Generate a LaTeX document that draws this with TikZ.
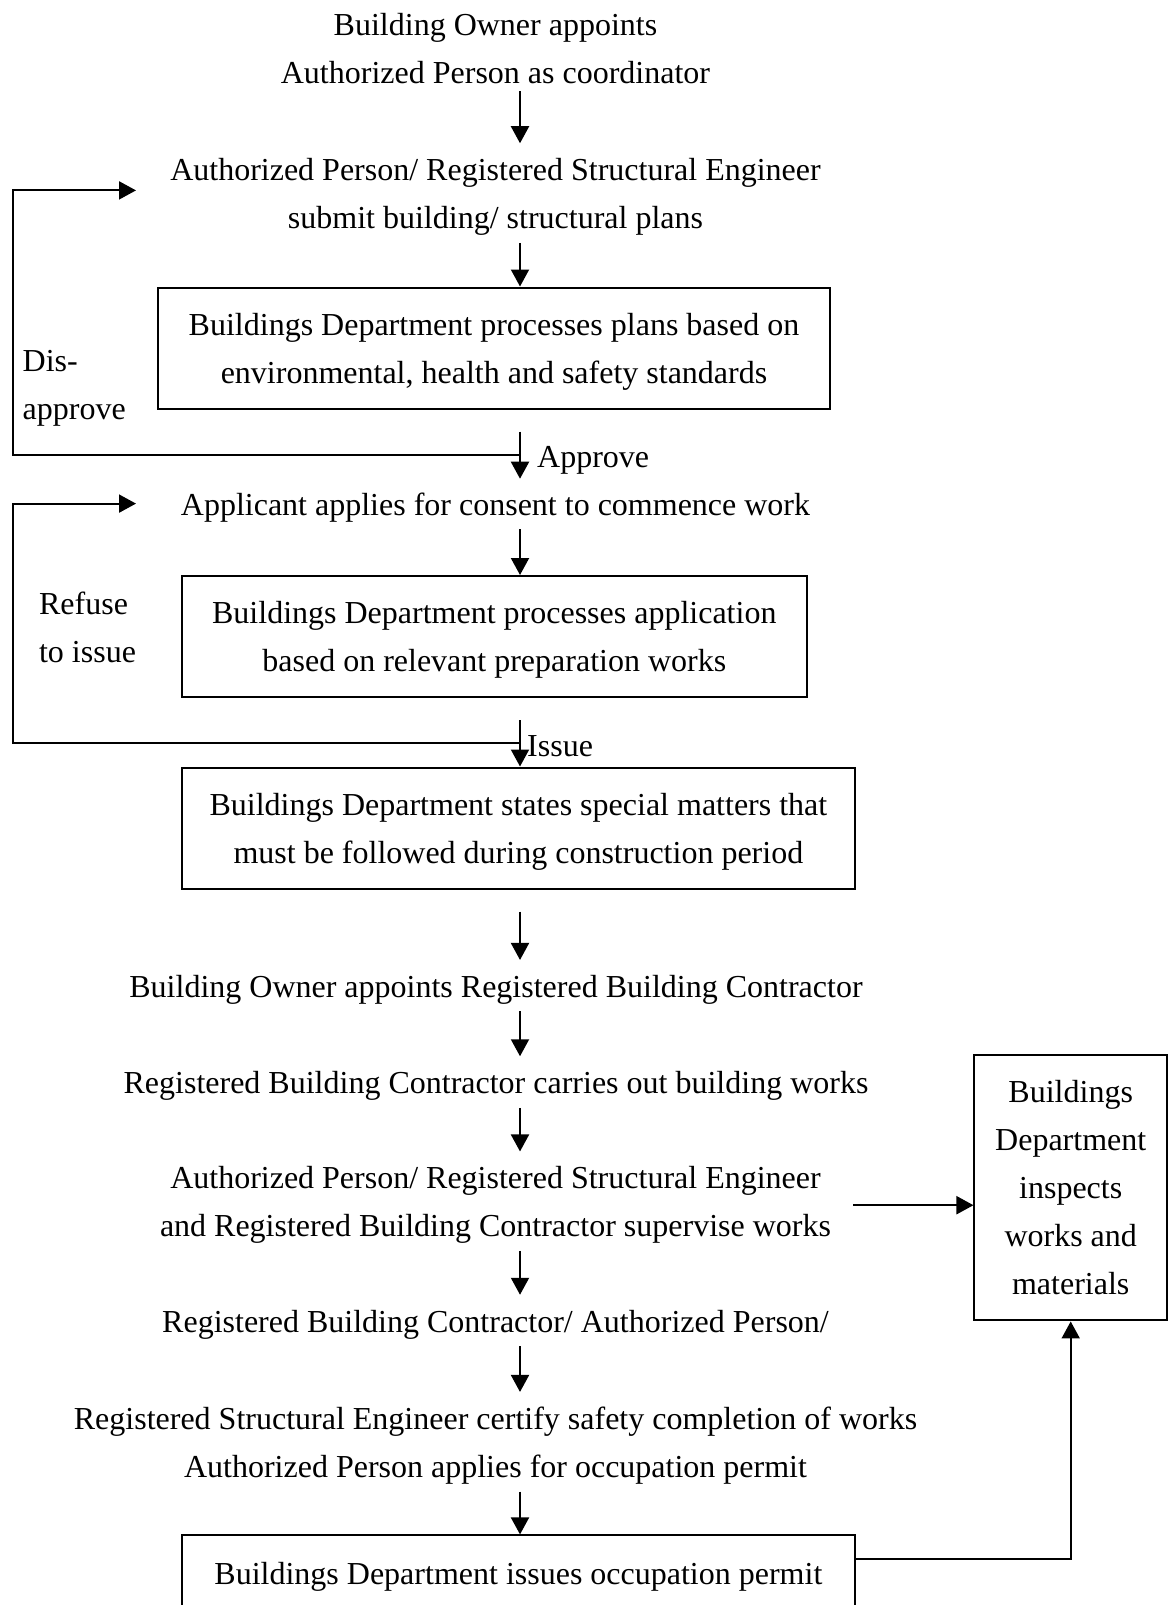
\documentclass[tikz,border=0pt]{standalone}
\usepackage{fontspec}
\setmainfont{Liberation Serif}
\usetikzlibrary{arrows.meta}

\tikzset{
  txt/.style={inner sep=0pt, align=center, font=\fontsize{32}{48}\selectfont},
  stagebox/.style={draw, line width=2pt, inner sep=0pt, text depth=0pt, align=center, font=\fontsize{32}{48}\selectfont},
  arr/.style={line width=2pt, -{Triangle[length=17pt,width=18pt]}},
  fromtxt/.style={shorten <=7pt},
  totxt/.style={shorten >=15pt},
  frombox/.style={shorten <=22pt}
}

\begin{document}
\begin{tikzpicture}[x=1pt, y=-1pt]
	\useasboundingbox (0,0) rectangle (1170,1605);
	\coordinate (ax) at (520,0);

	%main column
	\node[txt] (appoint) at (495.5,48.6) {Building Owner appoints\\Authorized Person as coordinator};
	\node[txt] (submit) at (495.5,197) {Authorized Person/ Registered Structural Engineer\\submit building/ structural plans};
	\node[stagebox, minimum width=672pt, minimum height=121pt] (plans) at (494,348) {Buildings Department processes plans based on\\environmental, health and safety standards};
	\node[txt] (consent) at (495.5,507.6) {Applicant applies for consent to commence work};
	\node[stagebox, minimum width=625pt, minimum height=121pt] (application) at (494.3,636.5) {Buildings Department processes application\\based on relevant preparation works};
	\node[stagebox, minimum width=673pt, minimum height=121pt] (matters) at (518.4,828) {Buildings Department states special matters that\\must be followed during construction period};
	\node[txt] (contractor) at (496,989.7) {Building Owner appoints Registered Building Contractor};
	\node[txt] (carries) at (496,1086) {Registered Building Contractor carries out building works};
	\node[txt] (supervise) at (495.5,1205.2) {Authorized Person/ Registered Structural Engineer\\and Registered Building Contractor supervise works};
	\node[txt] (certify) at (495.5,1324.5) {Registered Building Contractor/ Authorized Person/};
	\node[txt] (occupation) at (495.5,1445.8) {Registered Structural Engineer certify safety completion of works\\Authorized Person applies for occupation permit};
	\node[stagebox, minimum width=673pt, minimum height=76pt] (permit) at (518.4,1573.4) {Buildings Department issues occupation permit};

	%side box
	\node[stagebox, minimum width=192.5pt, minimum height=265.5pt] (inspect) at (1070.7,1187.7) {Buildings\\Department\\inspects\\works and\\materials};

	%labels
	\node[txt, anchor=west, align=left] (disapprove) at (22.5,388.5) {Dis-\\approve};
	\node[txt, anchor=west] (approve) at (537,460) {Approve};
	\node[txt, anchor=west] (refuse) at (38.9,627) [align=left] {Refuse\\to issue};
	\node[txt, anchor=west] (issue) at (527,746) {Issue};

	%arrows
	\draw[arr, fromtxt, totxt] (appoint.south -| ax) -- (submit.north -| ax);
	\draw[arr, fromtxt] (submit.south -| ax) -- (plans.north -| ax);
	\draw[arr, frombox, shorten >=14pt] (plans.south -| ax) -- (consent.north -| ax);
	\draw[arr, fromtxt] (consent.south -| ax) -- (application.north -| ax);
	\draw[arr, frombox] (application.south -| ax) -- (matters.north -| ax);
	\draw[arr, frombox, totxt] (matters.south -| ax) -- (contractor.north -| ax);
	\draw[arr, fromtxt, totxt] (contractor.south -| ax) -- (carries.north -| ax);
	\draw[arr, fromtxt, totxt] (carries.south -| ax) -- (supervise.north -| ax);
	\draw[arr, fromtxt, totxt] (supervise.south -| ax) -- (certify.north -| ax);
	\draw[arr, fromtxt, totxt] (certify.south -| ax) -- (occupation.north -| ax);
	\draw[arr, fromtxt] (occupation.south -| ax) -- (permit.north -| ax);

	%loops back
	\coordinate (disfork) at (520,454.5);
	\coordinate (disturn) at (13.3,190.4);
	\coordinate (disend) at (136,190.4);
	\draw[arr] (disfork) -| (disturn) -- (disend);
	\coordinate (reffork) at (520,743);
	\coordinate (refturn) at (13.3,503.6);
	\coordinate (refend) at (136,503.6);
	\draw[arr] (reffork) -| (refturn) -- (refend);

	%to inspection
	\draw[arr, shorten <=22pt] (supervise.east) -- (supervise.east -| inspect.west);
	\draw[arr] ([yshift=-25pt]permit.north east) -| (inspect.south);
\end{tikzpicture}
\end{document}
